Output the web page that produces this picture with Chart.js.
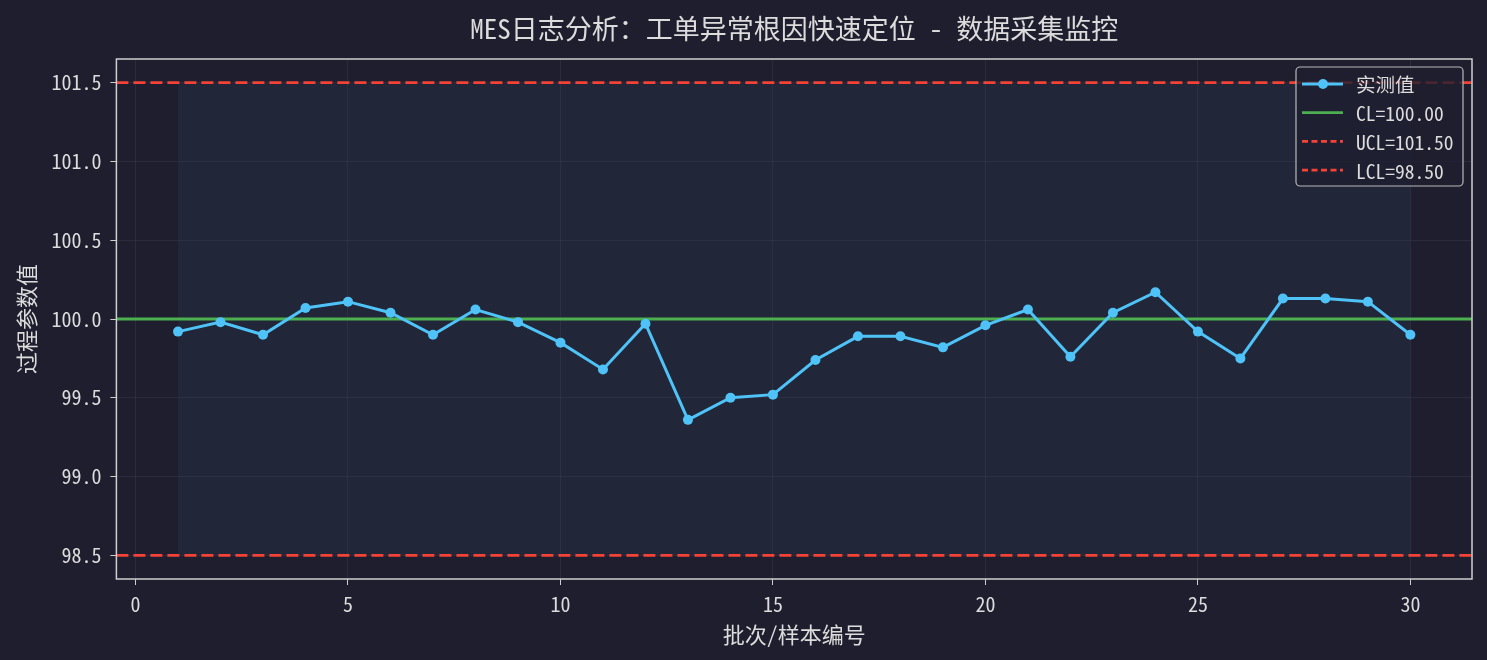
<!DOCTYPE html>
<html>
<head>
<meta charset="utf-8">
<script src="https://cdn.jsdelivr.net/npm/chart.js@4"></script>
<style>
html,body{margin:0;padding:0;background:#1e1e2e;}
#wrap{width:1487px;height:660px;}
</style>
</head>
<body>
<div id="wrap"><canvas id="c" width="1487" height="660"></canvas></div>
<script>
const batches = [1,2,3,4,5,6,7,8,9,10,11,12,13,14,15,16,17,18,19,20,21,22,23,24,25,26,27,28,29,30];
const measured = [99.92,99.98,99.90,100.07,100.11,100.04,99.90,100.06,99.98,99.85,99.68,99.97,99.36,99.50,99.52,99.74,99.89,99.89,99.82,99.96,100.06,99.76,100.04,100.17,99.92,99.75,100.13,100.13,100.11,99.90];
const CL = 100.00, UCL = 101.50, LCL = 98.50;
const xTicks = [0,5,10,15,20,25,30];
const yTicks = [98.5,99.0,99.5,100.0,100.5,101.0,101.5];
const titleText = 'MES日志分析：工单异常根因快速定位 - 数据采集监控';
const xTitle = '批次/样本编号';
const yTitle = '过程参数值';
const legendLabels = ['实测值','CL=100.00','UCL=101.50','LCL=98.50'];

const FONT = "'Noto Sans Mono CJK SC','DejaVu Sans Mono','Noto Sans CJK SC',monospace";
const TXT = '#dcdcdc';
const BLUE = '#4fc3f7', GREEN = '#4caf50', RED = '#f44336';

const bgPlugin = {
  id:'bg',
  beforeDraw(chart){
    const {ctx, scales:{x,y}} = chart;
    ctx.save();
    ctx.fillStyle = '#1e1e2e';
    ctx.fillRect(0,0,chart.width,chart.height);
    const x0 = x.getPixelForValue(batches[0]), x1 = x.getPixelForValue(batches[batches.length-1]);
    const yt = y.getPixelForValue(UCL), yb = y.getPixelForValue(LCL);
    ctx.fillStyle = '#212638';
    ctx.fillRect(x0, yt, x1-x0, yb-yt);
    ctx.restore();
  },
  beforeDatasetsDraw(chart){
    const {ctx, chartArea:a, scales:{y}} = chart;
    ctx.save();
    ctx.beginPath(); ctx.rect(a.left,a.top,a.right-a.left,a.bottom-a.top); ctx.clip();
    const drawH = (v,color,dash)=>{
      const py = y.getPixelForValue(v);
      ctx.strokeStyle = color; ctx.lineWidth = 2.8; ctx.setLineDash(dash);
      ctx.beginPath(); ctx.moveTo(a.left,py); ctx.lineTo(a.right,py); ctx.stroke();
    };
    drawH(CL, GREEN, []);
    drawH(UCL, RED, [12,5]);
    drawH(LCL, RED, [12,5]);
    ctx.restore();
  },
  afterDraw(chart){
    const {ctx, chartArea:a} = chart;
    ctx.save();
    ctx.strokeStyle = '#cfcfcf'; ctx.lineWidth = 1.5; ctx.setLineDash([]);
    ctx.strokeRect(a.left, a.top, a.right-a.left, a.bottom-a.top);
    // title centred over the plot area
    ctx.fillStyle = TXT;
    ctx.font = "27px " + FONT;
    ctx.textAlign = 'center'; ctx.textBaseline = 'middle';
    ctx.fillText(titleText, (a.left+a.right)/2, 28.5);
    ctx.textAlign = 'left';
    // legend
    const bx = a.right - 176, by = a.top + 8, bw = 167, bh = 119;
    ctx.fillStyle = 'rgba(30,30,46,0.8)';
    ctx.strokeStyle = '#b8b8b8'; ctx.lineWidth = 1.2;
    ctx.beginPath(); ctx.roundRect(bx,by,bw,bh,4); ctx.fill(); ctx.stroke();
    const rows = [
      {c:BLUE, dash:[], marker:true},
      {c:GREEN, dash:[], marker:false},
      {c:RED, dash:[6,3.5], marker:false},
      {c:RED, dash:[6,3.5], marker:false}
    ];
    ctx.font = "19.5px " + FONT;
    ctx.textBaseline = 'middle';
    rows.forEach((r,i)=>{
      const yy = by + 17 + i*28.7;
      ctx.strokeStyle = r.c; ctx.lineWidth = 2.8; ctx.setLineDash(r.dash);
      ctx.beginPath(); ctx.moveTo(bx+6,yy); ctx.lineTo(bx+47,yy); ctx.stroke();
      ctx.setLineDash([]);
      if(r.marker){ ctx.fillStyle = r.c; ctx.beginPath(); ctx.arc(bx+27,yy,5,0,Math.PI*2); ctx.fill(); }
      ctx.fillStyle = TXT;
      ctx.fillText(legendLabels[i], bx+60, yy+1);
    });
    ctx.restore();
  }
};

new Chart(document.getElementById('c'), {
  type:'line',
  data:{
    datasets:[{
      label: legendLabels[0],
      data: batches.map((b,i)=>({x:b,y:measured[i]})),
      borderColor: BLUE, backgroundColor: BLUE,
      borderWidth: 3, pointRadius: 5, pointHoverRadius: 5,
      pointBorderWidth: 0, tension: 0
    }]
  },
  options:{
    responsive:false, animation:false,
    devicePixelRatio:1,
    layout:{padding:{left:8,right:15,top:59,bottom:10}},
    plugins:{
      legend:{display:false},
      tooltip:{enabled:false},
      title:{display:false}
    },
    scales:{
      x:{
        type:'linear', min:-0.45, max:31.45,
        afterBuildTicks(s){ s.ticks = xTicks.map(v=>({value:v})); },
        ticks:{color:TXT,font:{family:FONT,size:20},padding:7},
        grid:{color:'rgba(70,70,90,0.35)',tickColor:'#cfcfcf',tickLength:6,lineWidth:1},
        border:{display:false},
        title:{display:true,text:xTitle,color:TXT,font:{family:FONT,size:22,lineHeight:1.0},padding:{top:1,bottom:4}}
      },
      y:{
        type:'linear', min:98.35, max:101.65,
        afterBuildTicks(s){ s.ticks = yTicks.map(v=>({value:v})); },
        ticks:{color:TXT,font:{family:FONT,size:20},padding:9,callback:v=>v.toFixed(1)},
        grid:{color:'rgba(70,70,90,0.35)',tickColor:'#cfcfcf',tickLength:6,lineWidth:1},
        border:{display:false},
        title:{display:true,text:yTitle,color:TXT,font:{family:FONT,size:22},padding:{top:5,bottom:3}}
      }
    }
  },
  plugins:[bgPlugin]
});
</script>
</body>
</html>
